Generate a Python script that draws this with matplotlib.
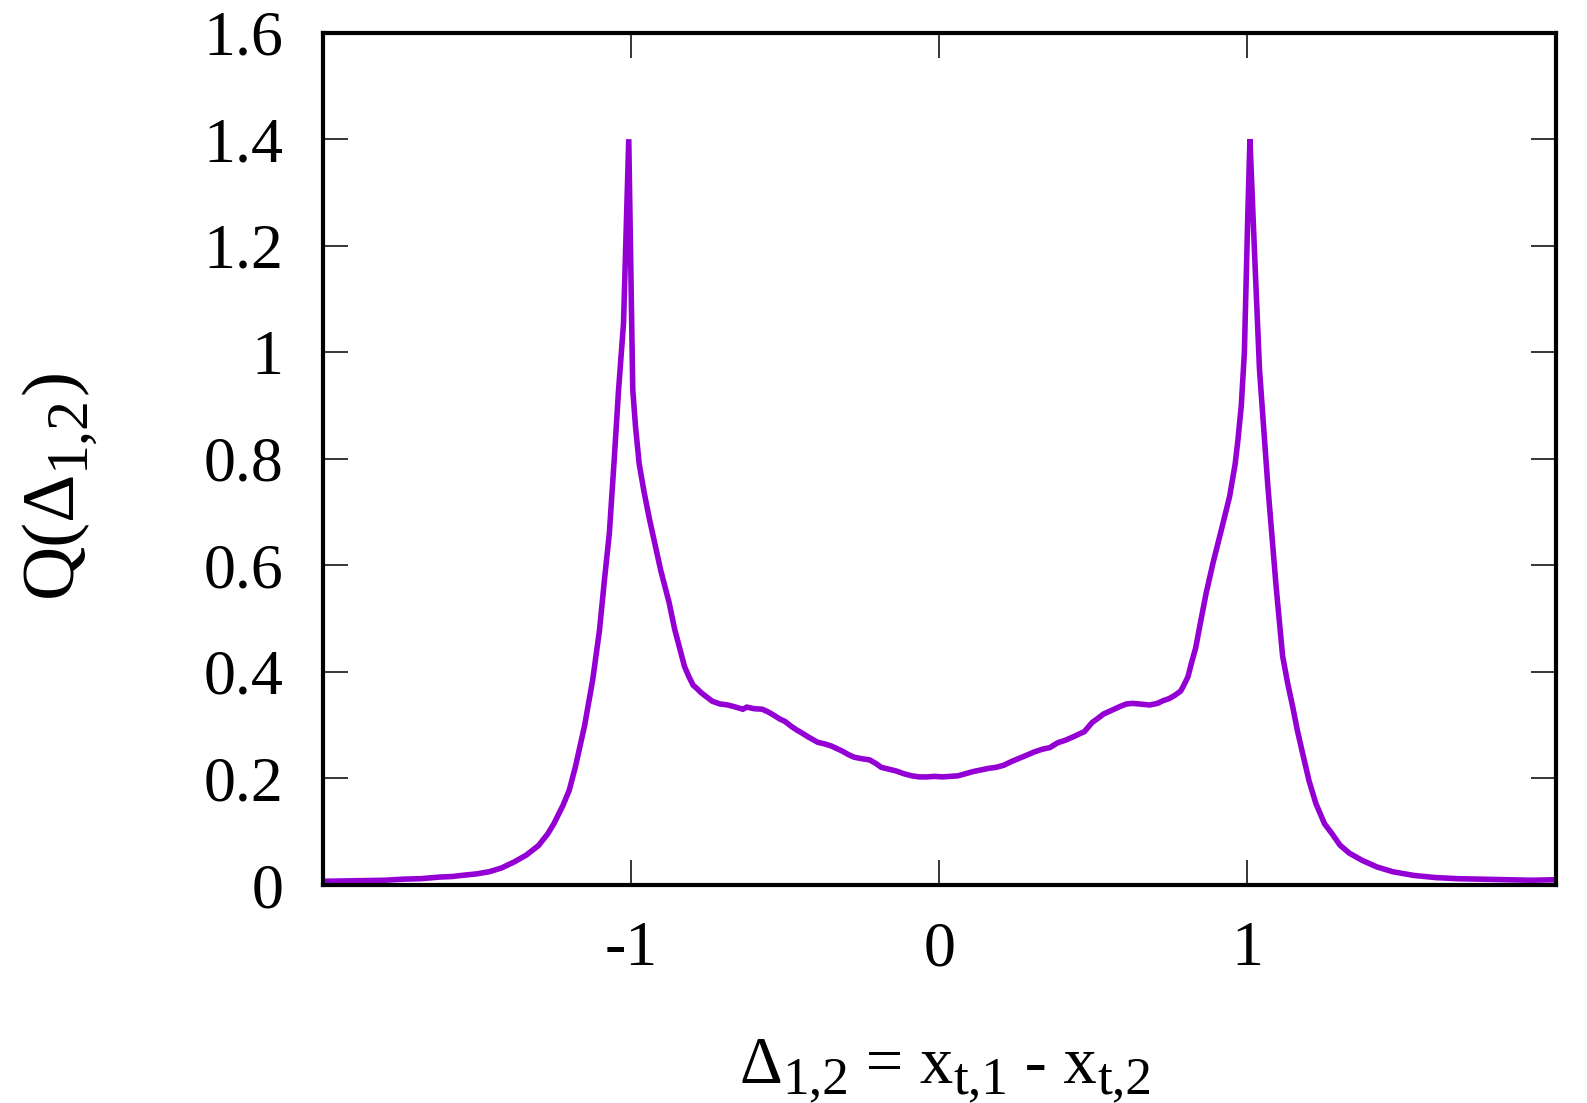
import matplotlib
matplotlib.use('Agg')
import matplotlib.pyplot as plt
import matplotlib.ticker as mtick

# Q(Delta_12)
delta = [-2.00, -1.90, -1.80, -1.74, -1.68, -1.62, -1.58, -1.55, -1.50, -1.46,
         -1.42, -1.38, -1.34, -1.30, -1.27, -1.25, -1.22, -1.20, -1.18, -1.15,
         -1.124, -1.102, -1.086, -1.07, -1.054, -1.04, -1.024, -1.007,
         -0.994, -0.985, -0.973, -0.958, -0.941, -0.920, -0.903, -0.876, -0.858,
         -0.842, -0.826, -0.811, -0.798, -0.786, -0.774, -0.761, -0.736, -0.712,
         -0.686, -0.66, -0.637, -0.624, -0.600, -0.574, -0.555, -0.537, -0.518,
         -0.500, -0.48, -0.462, -0.444, -0.425, -0.394, -0.372, -0.350, -0.313,
         -0.295, -0.276, -0.250, -0.226, -0.205, -0.188, -0.160, -0.139, -0.115,
         -0.089, -0.065, -0.039, -0.015, 0.011, 0.035, 0.061, 0.085, 0.110,
         0.135, 0.160, 0.185, 0.210, 0.235, 0.260, 0.285, 0.309, 0.335, 0.359,
         0.384, 0.410, 0.434, 0.452, 0.471, 0.496, 0.515, 0.533, 0.552, 0.571,
         0.590, 0.608, 0.628, 0.646, 0.665, 0.683, 0.708, 0.726, 0.746, 0.764,
         0.783, 0.791, 0.807, 0.818, 0.832, 0.845, 0.866, 0.888, 0.915, 0.942,
         0.960, 0.969, 0.980, 0.990, 1.001, 1.008,
         1.022, 1.039, 1.066, 1.093, 1.114, 1.130, 1.147, 1.162, 1.179, 1.200,
         1.222, 1.250, 1.276, 1.300, 1.330, 1.373, 1.420, 1.471, 1.540, 1.611,
         1.680, 1.762, 1.850, 1.920, 2.000]
q = [0.007, 0.008, 0.009, 0.011, 0.012, 0.015, 0.016, 0.018, 0.021, 0.025,
     0.032, 0.043, 0.056, 0.074, 0.096, 0.115, 0.150, 0.178, 0.222, 0.300,
     0.385, 0.478, 0.572, 0.66, 0.80, 0.93, 1.054, 1.40,
     0.93, 0.86, 0.79, 0.74, 0.69, 0.635, 0.59, 0.53, 0.48,
     0.445, 0.41, 0.39, 0.375, 0.369, 0.362, 0.356, 0.345, 0.340,
     0.338, 0.334, 0.330, 0.334, 0.331, 0.330, 0.325, 0.319, 0.312,
     0.307, 0.298, 0.291, 0.285, 0.278, 0.268, 0.265, 0.261, 0.251,
     0.245, 0.240, 0.237, 0.235, 0.228, 0.221, 0.217, 0.214, 0.209,
     0.205, 0.203, 0.203, 0.204, 0.203, 0.204, 0.205, 0.209, 0.213,
     0.216, 0.219, 0.221, 0.225, 0.232, 0.238, 0.244, 0.250, 0.255, 0.258,
     0.267, 0.272, 0.278, 0.283, 0.288, 0.305, 0.313, 0.321, 0.326, 0.331,
     0.336, 0.340, 0.341, 0.340, 0.339, 0.338, 0.341, 0.346, 0.350, 0.356,
     0.364, 0.372, 0.391, 0.416, 0.445, 0.485, 0.548, 0.604, 0.666, 0.729,
     0.790, 0.835, 0.90, 1.00, 1.256, 1.40,
     1.20, 0.968, 0.75, 0.56, 0.43, 0.38, 0.334, 0.290, 0.247, 0.195,
     0.153, 0.115, 0.095, 0.075, 0.060, 0.046, 0.034, 0.025, 0.018, 0.014,
     0.012, 0.011, 0.010, 0.009, 0.010]

xticks = [-1, 0, 1]
yticks = [0, 0.2, 0.4, 0.6, 0.8, 1.0, 1.2, 1.4, 1.6]

# label pieces: (text, is_subscript)
xlabel_parts = [('\u0394', False), ('1,2', True), (' = x', False), ('t,1', True),
                (' - x', False), ('t,2', True)]
ylabel_parts = [('Q(\u0394', False), ('1,2', True), (')', False)]

plt.rcParams['font.family'] = ['Liberation Serif', 'DejaVu Serif']
plt.rcParams['axes.unicode_minus'] = False

SUB = 0.8


def chain_label(fig, parts, x0, y0, fs, shift, vertical=False):
    """gnuplot-like enhanced text: pieces glued one after another"""
    ax0 = fig.get_axes()[0]
    first = None
    prev = None
    for s, sub in parts:
        size = fs * SUB if sub else fs
        if first is None:
            if vertical:
                t = fig.text(x0, y0, s, fontsize=size, rotation=90,
                             rotation_mode='anchor', ha='left', va='bottom')
            else:
                t = fig.text(x0, y0, s, fontsize=size, ha='left', va='bottom')
            first = t
        else:
            dy = -shift if sub else 0
            if vertical:
                t = ax0.annotate(s, xy=(1, 1), xycoords=(first, prev),
                                 xytext=(-dy, 0), textcoords='offset points',
                                 fontsize=size, rotation=90,
                                 rotation_mode='anchor', ha='left', va='bottom',
                                 annotation_clip=False)
            else:
                t = ax0.annotate(s, xy=(1, 0), xycoords=(prev, first),
                                 xytext=(0, dy), textcoords='offset points',
                                 fontsize=size, ha='left', va='bottom',
                                 annotation_clip=False)
        prev = t


fig = plt.figure(figsize=(15.87, 11.03), dpi=100)
ax = fig.add_axes([0.2033, 0.1976, 0.7770, 0.7728])

ax.plot(delta, q, color='#9400D3', lw=4.0, solid_joinstyle='miter')

ax.set_xlim(-2, 2)
ax.set_ylim(0, 1.6)
ax.set_xticks(xticks)
ax.set_yticks(yticks)
ax.xaxis.set_major_formatter(mtick.FuncFormatter(lambda v, p: '%g' % v))
ax.yaxis.set_major_formatter(mtick.FuncFormatter(lambda v, p: '%g' % v))
ax.tick_params(direction='in', top=True, right=True, length=18, width=1.1,
               labelsize=46)
ax.tick_params(axis='y', pad=28)
ax.tick_params(axis='x', pad=26)
for s in ax.spines.values():
    s.set_linewidth(3.0)

chain_label(fig, xlabel_parts, 0.466, 0.005, 48, 5)
chain_label(fig, ylabel_parts, 0.055, 0.459, 54, 6, vertical=True)

fig.savefig('out.png', dpi=100)
